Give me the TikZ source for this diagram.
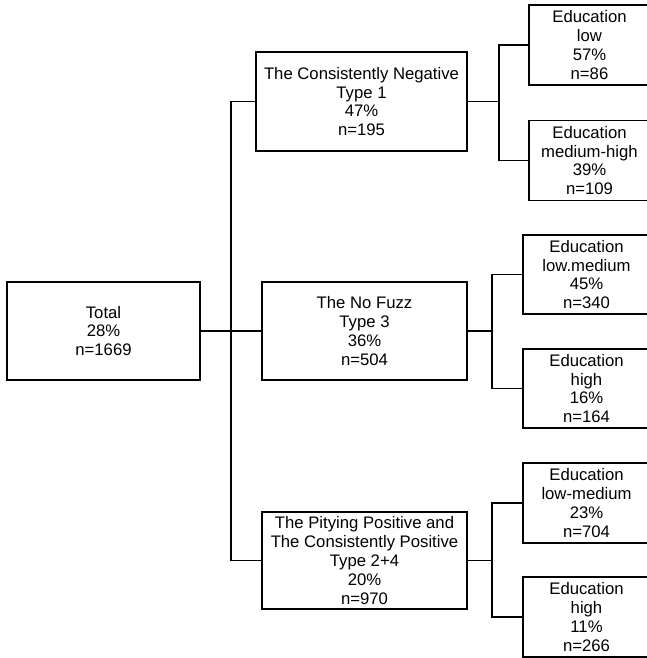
\documentclass[tikz,border=0pt]{standalone}
\usepackage{fontspec}
\setmainfont{Liberation Sans}

\begin{document}
\begin{tikzpicture}[x=1pt,y=-1pt,line width=1.3pt,
  box/.style={draw,inner sep=0pt,outer sep=0pt,align=center,
    font=\fontsize{16.7}{18.8}\selectfont},
  edubox/.style={box,minimum width=121pt,minimum height=80pt}]
  \useasboundingbox (0,0) rectangle (647,658);

  \node[box,minimum width=193pt,minimum height=98pt] (total) at (103.5,331) {Total\\28\%\\n=1669};

  \node[box,minimum width=211pt,minimum height=99pt] (type1) at (361.5,101.5)
    {The Consistently Negative\\Type 1\\47\%\\n=195};
  \node[box,minimum width=205pt,minimum height=98pt] (nofuzz) at (364.5,331)
    {The No Fuzz\\Type 3\\36\%\\n=504};
  \node[box,minimum width=205pt,minimum height=97pt] (type24) at (364.5,560.5)
    {The Pitying Positive and\\The Consistently Positive\\Type 2+4\\20\%\\n=970};

  \node[edubox] (edu1) at (589.5,45) {Education\\low\\57\%\\n=86};
  \node[edubox] (edu2) at (589.5,160.5) {Education\\medium-high\\39\%\\n=109};
  \node[edubox,minimum width=127pt,minimum height=79pt] (edu3) at (586.5,274.5) {Education\\low.medium\\45\%\\n=340};
  \node[edubox,minimum width=127pt,minimum height=79pt] (edu4) at (586.5,388.5) {Education\\high\\16\%\\n=164};
  \node[edubox,minimum width=127pt] (edu5) at (586.5,503) {Education\\low-medium\\23\%\\n=704};
  \node[edubox,minimum width=127pt] (edu6) at (586.5,617) {Education\\high\\11\%\\n=266};

  \coordinate (trunk) at (231,0);
  \coordinate (bra1) at (499,0);
  \coordinate (bra2) at (492,0);
  \coordinate (bra3) at (492,0);

  \draw (total.east) -- (nofuzz.west);
  \draw (type1.west) -- (type1.west -| trunk) -- (type24.west -| trunk) -- (type24.west);
  \foreach \p/\a/\b/\k in {type1/edu1/edu2/bra1, nofuzz/edu3/edu4/bra2, type24/edu5/edu6/bra3} {
    \draw (\p.east) -- (\p.east -| \k);
    \draw (\a.west) -- (\a.west -| \k) -- (\b.west -| \k) -- (\b.west);
  }
\end{tikzpicture}
\end{document}
